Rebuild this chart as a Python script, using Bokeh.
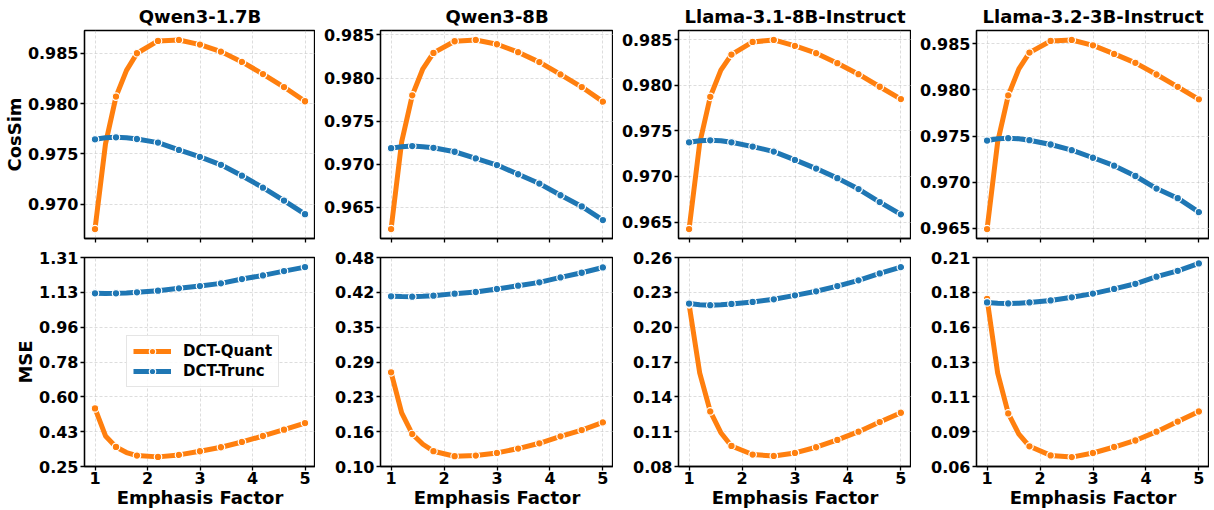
import numpy as np
from bokeh.plotting import figure
from bokeh.layouts import gridplot
from bokeh.models import Range1d, FixedTicker, Legend, LegendItem, NumeralTickFormatter
from bokeh.embed import file_html
from bokeh.resources import INLINE

# ---------------- data ----------------
models = ["Qwen3-1.7B", "Qwen3-8B", "Llama-3.1-8B-Instruct", "Llama-3.2-3B-Instruct"]
emphasis = [1.0, 1.2, 1.4, 1.6, 1.8, 2.2, 2.6, 3.0, 3.4, 3.8, 4.2, 4.6, 5.0]
marker_x = [1.0, 1.4, 1.8, 2.2, 2.6, 3.0, 3.4, 3.8, 4.2, 4.6, 5.0]
x_ticks = [1, 2, 3, 4, 5]

cossim_quant_q17 = [0.96753, 0.97599, 0.98069, 0.98330, 0.98500, 0.98622, 0.98632, 0.98586, 0.98516, 0.98414, 0.98293, 0.98164, 0.98023]
cossim_quant_q8 = [0.96250, 0.97262, 0.97800, 0.98108, 0.98292, 0.98427, 0.98442, 0.98392, 0.98300, 0.98185, 0.98042, 0.97896, 0.97727]
cossim_quant_l31 = [0.96423, 0.97364, 0.97873, 0.98165, 0.98336, 0.98474, 0.98496, 0.98431, 0.98351, 0.98241, 0.98121, 0.97983, 0.97848]
cossim_quant_l32 = [0.96493, 0.97437, 0.97940, 0.98227, 0.98403, 0.98529, 0.98540, 0.98482, 0.98389, 0.98292, 0.98166, 0.98033, 0.97897]

cossim_trunc_q17 = [0.97645, 0.97660, 0.97664, 0.97660, 0.97648, 0.97612, 0.97539, 0.97470, 0.97391, 0.97283, 0.97164, 0.97036, 0.96901]
cossim_trunc_q8 = [0.97188, 0.97205, 0.97212, 0.97205, 0.97192, 0.97146, 0.97069, 0.96992, 0.96885, 0.96777, 0.96642, 0.96512, 0.96354]
cossim_trunc_l31 = [0.97374, 0.97390, 0.97396, 0.97392, 0.97374, 0.97327, 0.97272, 0.97181, 0.97086, 0.96981, 0.96861, 0.96719, 0.96584]
cossim_trunc_l32 = [0.97451, 0.97470, 0.97477, 0.97470, 0.97455, 0.97408, 0.97347, 0.97265, 0.97179, 0.97067, 0.96931, 0.96827, 0.96676]

mse_quant_q17 = [0.5444, 0.4048, 0.3493, 0.3208, 0.3055, 0.2988, 0.3089, 0.3274, 0.3476, 0.3745, 0.4048, 0.4368, 0.4704]
mse_quant_q8 = [0.2713, 0.1977, 0.1591, 0.1404, 0.1278, 0.1187, 0.1199, 0.1247, 0.1326, 0.1422, 0.1549, 0.1663, 0.1802]
mse_quant_l31 = [0.2197, 0.1606, 0.1274, 0.1091, 0.0977, 0.0903, 0.0891, 0.0917, 0.0966, 0.1029, 0.1100, 0.1183, 0.1263]
mse_quant_l32 = [0.1781, 0.1260, 0.0976, 0.0831, 0.0745, 0.0681, 0.0669, 0.0698, 0.0740, 0.0786, 0.0848, 0.0919, 0.0990]

mse_trunc_q17 = [1.1283, 1.1280, 1.1283, 1.1300, 1.1333, 1.1418, 1.1535, 1.1653, 1.1788, 1.2006, 1.2191, 1.2410, 1.2612]
mse_trunc_q8 = [0.4094, 0.4090, 0.4088, 0.4095, 0.4106, 0.4143, 0.4173, 0.4227, 0.4287, 0.4348, 0.4438, 0.4523, 0.4619]
mse_trunc_l31 = [0.2203, 0.2193, 0.2189, 0.2193, 0.2200, 0.2217, 0.2240, 0.2274, 0.2309, 0.2354, 0.2403, 0.2463, 0.2517]
mse_trunc_l32 = [0.1757, 0.1752, 0.1750, 0.1752, 0.1757, 0.1771, 0.1793, 0.1819, 0.1852, 0.1888, 0.1938, 0.1979, 0.2031]

cossim_ticks = [0.965, 0.970, 0.975, 0.980, 0.985]
mse_limits = [(0.25, 1.31), (0.10, 0.48), (0.08, 0.26), (0.0603, 0.2073)]
mse_tick_labels = [
    ["0.25", "0.43", "0.60", "0.78", "0.96", "1.13", "1.31"],
    ["0.10", "0.16", "0.23", "0.29", "0.35", "0.42", "0.48"],
    ["0.08", "0.11", "0.14", "0.17", "0.20", "0.23", "0.26"],
    ["0.06", "0.09", "0.11", "0.13", "0.16", "0.18", "0.21"],
]

cossim_quant = [cossim_quant_q17, cossim_quant_q8, cossim_quant_l31, cossim_quant_l32]
cossim_trunc = [cossim_trunc_q17, cossim_trunc_q8, cossim_trunc_l31, cossim_trunc_l32]
mse_quant = [mse_quant_q17, mse_quant_q8, mse_quant_l31, mse_quant_l32]
mse_trunc = [mse_trunc_q17, mse_trunc_q8, mse_trunc_l31, mse_trunc_l32]

# ---------------- style ----------------
ORANGE = "#ff7f0e"
BLUE = "#1f77b4"
FONT = "DejaVu Sans"
FRAME_W = 233
TOP_H = 209
BOT_H = 210


def style(p, show_xlabels, ylabel):
    p.x_range = Range1d(0.8, 5.2)
    p.outline_line_color = "black"
    p.outline_line_width = 1.3
    for ax in (p.xaxis[0], p.yaxis[0]):
        ax.axis_line_color = "black"
        ax.axis_line_width = 1.3
        ax.major_tick_out = 4
        ax.major_tick_in = 0
        ax.minor_tick_line_color = None
        ax.major_tick_line_width = 1.3
        ax.major_label_text_font = FONT
        ax.major_label_text_font_style = "bold"
        ax.major_label_text_font_size = "16px"
        ax.major_label_text_color = "black"
        ax.axis_label_text_font = FONT
        ax.axis_label_text_font_style = "bold"
        ax.axis_label_text_font_size = "18px"
        ax.axis_label_text_color = "black"
        ax.axis_label_standoff = 0
    p.xaxis[0].ticker = FixedTicker(ticks=x_ticks, minor_ticks=[])
    p.xaxis[0].major_label_standoff = 1
    p.yaxis[0].major_label_standoff = 2
    if show_xlabels:
        p.xaxis[0].axis_label = "Emphasis Factor"
    else:
        p.xaxis[0].major_label_overrides = {t: "" for t in x_ticks}
    if ylabel:
        p.yaxis[0].axis_label = ylabel
    for g in (p.xgrid[0], p.ygrid[0]):
        g.grid_line_color = "#b8b8b8"
        g.grid_line_alpha = 0.6
        g.grid_line_dash = "3 2"
        g.grid_line_width = 0.8
    p.background_fill_color = "white"
    p.border_fill_color = "white"


def draw(p, ys, color):
    line = p.line(emphasis, ys, line_color=color, line_width=5)
    mx = [x for x in emphasis if x in marker_x]
    my = [y for x, y in zip(emphasis, ys) if x in marker_x]
    sc = p.scatter(mx, my, size=7.5, fill_color=color, line_color="white", line_width=1.2)
    return line, sc


figs_top = []
figs_bot = []
for i, name in enumerate(models):
    left = 82 if i == 0 else 65
    # ---- top row: CosSim ----
    pt = figure(width=left + FRAME_W, height=29 + TOP_H + 9, output_backend="svg",
                toolbar_location=None, min_border_left=left, min_border_right=0,
                min_border_top=29, min_border_bottom=9, title=name)
    style(pt, False, "CosSim" if i == 0 else None)
    pt.title.text_font = FONT
    pt.title.text_font_style = "bold"
    pt.title.text_font_size = "18px"
    pt.title.text_color = "black"
    pt.title.align = "center"
    pt.title.standoff = 7
    draw(pt, cossim_quant[i], ORANGE)
    draw(pt, cossim_trunc[i], BLUE)
    allv = cossim_quant[i] + cossim_trunc[i]
    lo, hi = min(allv), max(allv)
    pad = 0.05 * (hi - lo)
    pt.y_range = Range1d(lo - pad, hi + pad)
    pt.yaxis[0].ticker = FixedTicker(ticks=cossim_ticks, minor_ticks=[])
    pt.yaxis[0].formatter = NumeralTickFormatter(format="0.000")
    figs_top.append(pt)

    # ---- bottom row: MSE ----
    pb = figure(width=left + FRAME_W, height=10 + BOT_H + 43, output_backend="svg",
                toolbar_location=None, min_border_left=left, min_border_right=0,
                min_border_top=10, min_border_bottom=43)
    style(pb, True, "MSE" if i == 0 else None)
    lq, sq = draw(pb, mse_quant[i], ORANGE)
    lt, st = draw(pb, mse_trunc[i], BLUE)
    mlo, mhi = mse_limits[i]
    pb.y_range = Range1d(mlo, mhi)
    tvals = [round(v, 6) for v in np.linspace(mlo, mhi, 7)]
    pb.yaxis[0].ticker = FixedTicker(ticks=tvals, minor_ticks=[])
    pb.yaxis[0].major_label_overrides = {v: s for v, s in zip(tvals, mse_tick_labels[i])}
    if i == 0:
        leg = Legend(items=[LegendItem(label="DCT-Quant", renderers=[lq, sq]),
                            LegendItem(label="DCT-Trunc", renderers=[lt, st])],
                     location=(42, 79))
        leg.label_text_font = FONT
        leg.label_text_font_style = "bold"
        leg.label_text_font_size = "15px"
        leg.label_text_color = "black"
        leg.glyph_width = 38
        leg.glyph_height = 16
        leg.label_standoff = 12
        leg.padding = 6
        leg.spacing = 2
        leg.margin = 0
        leg.border_line_color = "#cccccc"
        leg.border_line_width = 1
        leg.background_fill_alpha = 0.85
        pb.add_layout(leg, "center")
    figs_bot.append(pb)

grid = gridplot([figs_top, figs_bot], toolbar_location=None)

open("out.html", "w").write(file_html(grid, INLINE))
